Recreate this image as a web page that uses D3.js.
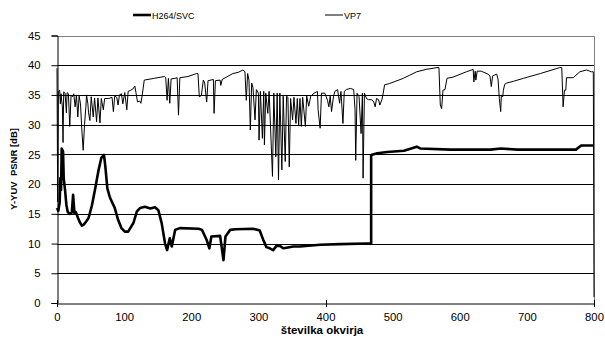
<!DOCTYPE html>
<html>
<head>
<meta charset="utf-8">
<script src="https://cdn.jsdelivr.net/npm/d3@7"></script>
<style>
  body { margin: 0; background: #fff; }
  svg { display: block; font-family: "Liberation Sans", Arial, sans-serif; }
</style>
</head>
<body>
<svg id="chart" width="605" height="338"></svg>
<script>
// [frame, PSNR]
const h264Points = [
  [0, 16], [2, 15.5], [4, 17], [5, 21], [6, 19], [7, 26], [9, 25.5], [10, 21], [12, 19], [14, 16.5],
  [16, 15.3], [19, 15], [22, 15.2], [24, 18.2], [26, 15.1], [28, 15.3], [31, 14.4], [34, 13.6], [37, 13.0], [40, 13.2],
  [44, 13.8], [47, 14.3], [52, 16.4], [57, 19.3], [62, 22.4], [66, 24.4], [70, 24.9], [72, 23], [75, 19.3], [79, 17.7],
  [86, 16.0], [91, 14.0], [96, 12.6], [101, 12.0], [106, 12.0], [114, 13.5], [119, 15.4], [124, 16.0], [131, 16.2], [139, 15.9],
  [146, 16.1], [151, 15.6], [156, 13.4], [161, 10.0], [164, 8.9], [168, 10.9], [171, 9.5], [176, 12.3], [183, 12.6], [211, 12.5],
  [216, 12.3], [223, 10.6], [227, 9.2], [230, 11.2], [243, 11.3], [248, 7.2], [251, 11.2], [258, 12.3], [266, 12.4], [292, 12.5],
  [302, 12.2], [307, 10.7], [312, 9.4], [317, 9.2], [322, 8.9], [327, 9.6], [332, 9.6], [337, 9.2], [342, 9.3], [352, 9.5],
  [362, 9.5], [392, 9.8], [422, 9.9], [462, 10.0], [468, 10.0], [468, 24.9], [477, 25.2], [492, 25.4], [517, 25.6], [536, 26.3],
  [541, 26.0], [586, 25.8], [646, 25.8], [661, 26.0], [686, 25.8], [773, 25.8], [781, 26.5], [800, 26.5]
];

const vp7Points = [
  [0, 39.5], [1, 17], [2, 35.5], [4, 35.8], [5, 33.5], [6, 35.2], [8, 33], [9, 27], [10, 35.5], [12, 35.3], [14, 32],
  [15, 35.4], [17, 35.2], [19, 29.7], [21, 35], [23, 34.7], [25, 35.2], [27, 33], [29, 35], [31, 31.3], [33, 34.8],
  [35, 33.5], [37, 29.1], [39, 25.7], [41, 30], [43, 33], [44, 35], [46, 33.5], [47, 32], [49, 30.7], [51, 34.7],
  [54, 31.3], [56, 34.5], [59, 30.5], [61, 34.5], [64, 30.3], [66, 34.4], [69, 32.5], [71, 34.4], [77, 34.4], [82, 34.6],
  [84, 32.2], [86, 34.8], [89, 34.6], [91, 33.3], [93, 35.0], [96, 35.2], [98, 33.5], [101, 35.4], [104, 32.5], [106, 35.6],
  [110, 35.8], [113, 36.0], [116, 36.5], [120, 33.8], [123, 34.0], [125, 33.6], [127, 35], [130, 37.5], [145, 37.8], [160, 38.1],
  [162, 37.9], [164, 34.1], [166, 37.8], [168, 33.6], [170, 37.7], [176, 37.8], [179, 37.9], [181, 31.6], [183, 37.9], [195, 38.1],
  [208, 38.6], [210, 38.6], [212, 34.7], [215, 34.9], [218, 37.5], [220, 37.0], [223, 33.8], [225, 37.4], [233, 37.6], [234, 31.9],
  [236, 37.4], [243, 37.5], [244, 36.6], [246, 37.6], [262, 38.6], [270, 38.8], [277, 39.2], [280, 38.9], [282, 34.1], [284, 38.6],
  [286, 37.5], [288, 29.1], [290, 37], [292, 36.2], [295, 30.8], [297, 35.9], [300, 35.3], [301, 27.4], [303, 35.6], [306, 27.7],
  [308, 35.6], [309, 26.6], [311, 35.3], [314, 31.9], [316, 35.6], [321, 21.3], [323, 35.3], [326, 24.6], [328, 35.3], [330, 20.7],
  [332, 35.3], [335, 22.4], [337, 34.8], [340, 23.8], [342, 34.8], [344, 34.6], [346, 22.9], [348, 34.4], [351, 30.8], [353, 34.6],
  [356, 30.2], [358, 34.4], [360, 29.9], [362, 34.4], [364, 29.7], [366, 34.6], [370, 29.7], [372, 34.8], [375, 33.1], [378, 34.8],
  [383, 35.3], [388, 35.6], [389, 32.5], [392, 29.4], [394, 35.3], [399, 35.3], [403, 34.1], [405, 33.0], [407, 34.8], [409, 32.2],
  [412, 34.8], [414, 35.6], [418, 35.9], [421, 33.6], [423, 35.6], [426, 30.2], [428, 35.6], [431, 35.9], [437, 36.1], [442, 35.9],
  [444, 32.5], [445, 24.0], [447, 35.3], [450, 34.7], [453, 28.5], [455, 35.3], [456, 21.0], [458, 35.3], [461, 34.4], [464, 34.2],
  [469, 34.2], [472, 33.8], [474, 33.0], [476, 34.4], [479, 34.2], [481, 33.3], [484, 34.2], [486, 35.3], [488, 36.7], [495, 36.9],
  [502, 37.2], [516, 37.8], [525, 38.3], [536, 38.9], [550, 39.3], [566, 39.6], [569, 39.6], [571, 33.3], [573, 32.7], [575, 35.8],
  [578, 35.9], [581, 37.8], [590, 38.0], [610, 38.9], [620, 39.3], [621, 37.2], [623, 39.0], [624, 37.5], [626, 39.0], [632, 39.0],
  [642, 38.5], [645, 38.2], [647, 36.4], [649, 38.2], [655, 38.5], [657, 37.7], [659, 34.4], [661, 32.2], [662, 35], [664, 34.7],
  [665, 35.8], [667, 36.8], [670, 37.0], [680, 37.3], [695, 37.8], [720, 38.6], [749, 39.6], [752, 39.6], [754, 33.0], [756, 35.8],
  [758, 35.8], [759, 37.9], [769, 37.9], [779, 38.9], [789, 39.2], [796, 38.9], [799, 38.9], [800, 1]
];

const xTicks = [0, 100, 200, 300, 400, 500, 600, 700, 800];
const xTickMarks = [0, 400, 800];
const yTicks = [0, 5, 10, 15, 20, 25, 30, 35, 40, 45];

const svg = d3.select('#chart');
const plotLeft = 57, plotRight = 594, plotTop = 35.5, plotBottom = 303;

const x = d3.scaleLinear().domain([0, 800]).range([plotLeft, plotRight]);
const y = d3.scaleLinear().domain([0, 45]).range([plotBottom, plotTop]);

// gridlines
svg.append('g')
  .selectAll('line')
  .data(yTicks.filter(d => d > 0 && d < 45))
  .enter()
  .append('line')
  .attr('x1', plotLeft).attr('x2', plotRight)
  .attr('y1', d => Math.round(y(d)) + 0.5).attr('y2', d => Math.round(y(d)) + 0.5)
  .attr('stroke', '#000').attr('stroke-width', 1);

// plot area border (top & right)
svg.append('path')
  .attr('d', `M${plotLeft},${Math.round(plotTop) + 0.5}H${plotRight + 0.5}V${plotBottom}`)
  .attr('fill', 'none').attr('stroke', '#808080').attr('stroke-width', 1);

// y axis
const yAxis = svg.append('g')
  .attr('transform', `translate(${plotLeft + 0.5},0)`)
  .call(d3.axisLeft(y).tickValues(yTicks).tickSize(6).tickPadding(11).tickFormat(d3.format('d')));
yAxis.select('.domain').attr('stroke', '#000');
yAxis.selectAll('text').attr('font-size', 11.3).attr('fill', '#000');
yAxis.selectAll('.tick line').attr('stroke', '#000');
yAxis.attr('font-family', null);

// x axis labels
const xAxis = svg.append('g')
  .attr('transform', `translate(0,${Math.round(plotBottom) + 0.5})`)
  .call(d3.axisBottom(x).tickValues(xTicks).tickSize(0).tickPadding(9).tickFormat(d3.format('d')));
xAxis.select('.domain').attr('stroke', '#000');
xAxis.selectAll('text').attr('font-size', 11.3).attr('fill', '#000');
xAxis.attr('font-family', null);

// x tick marks cross the axis
svg.append('g')
  .selectAll('line')
  .data(xTickMarks)
  .enter()
  .append('line')
  .attr('x1', d => Math.round(x(d)) + 0.5).attr('x2', d => Math.round(x(d)) + 0.5)
  .attr('y1', plotBottom - 3).attr('y2', plotBottom + 4)
  .attr('stroke', '#000');

// series
const line = d3.line()
  .x(d => x(d[0]))
  .y(d => y(d[1]));

svg.append('path')
  .datum(vp7Points)
  .attr('d', line)
  .attr('fill', 'none')
  .attr('stroke', '#000')
  .attr('stroke-width', 1);

svg.append('path')
  .datum(h264Points)
  .attr('d', line)
  .attr('fill', 'none')
  .attr('stroke', '#000')
  .attr('stroke-width', 2.6)
  .attr('stroke-linejoin', 'round');

// axis titles
svg.append('text')
  .attr('transform', 'translate(17,169) rotate(-90)')
  .attr('text-anchor', 'middle')
  .attr('font-size', 9.5)
  .attr('font-weight', 'bold')
  .style('white-space', 'pre')
  .text('Y-YUV  PSNR [dB]');

svg.append('text')
  .attr('x', 322).attr('y', 334)
  .attr('text-anchor', 'middle')
  .attr('font-size', 11.5)
  .attr('font-weight', 'bold')
  .text('številka okvirja');

// legend
const legend = [
  { name: 'H264/SVC', x: 133, width: 2.6 },
  { name: 'VP7', x: 325, width: 1 }
];
const lg = svg.append('g').selectAll('g').data(legend).enter().append('g');
lg.append('line')
  .attr('x1', d => d.x).attr('x2', d => d.x + 18)
  .attr('y1', 15).attr('y2', 15)
  .attr('stroke', '#000').attr('stroke-width', d => d.width);
lg.append('text')
  .attr('x', d => d.x + 19).attr('y', 18.5)
  .attr('font-size', 9)
  .text(d => d.name);
</script>
</body>
</html>
